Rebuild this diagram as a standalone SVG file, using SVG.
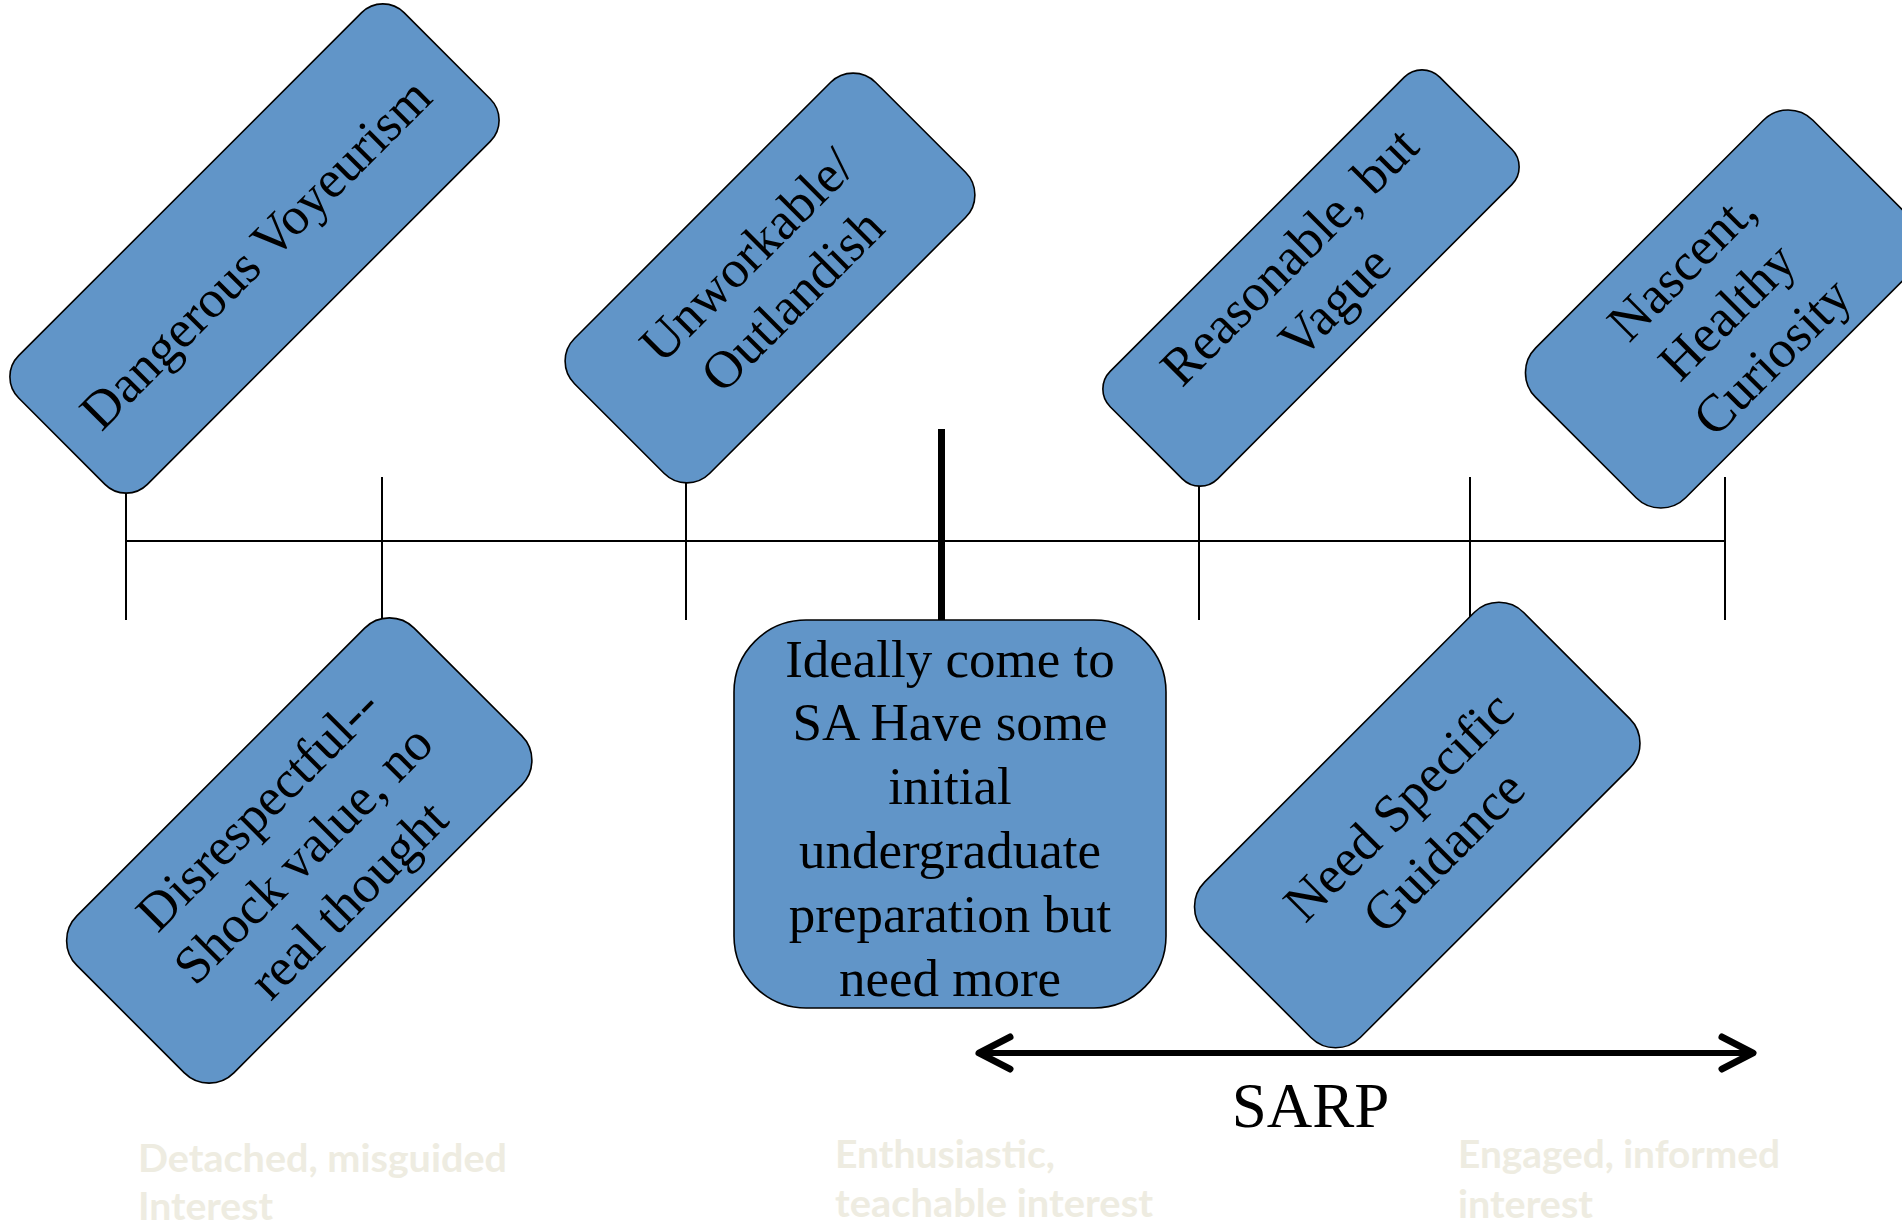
<svg xmlns="http://www.w3.org/2000/svg" width="1902" height="1225" viewBox="0 0 1902 1225">
  <style>
    .box { fill:#6195C8; stroke:#000000; stroke-width:1.6; }
    .lbl { font-family:"Liberation Serif","Times New Roman",serif; font-size:53px; fill:#000000; text-anchor:middle; }
    .thin { stroke:#000000; stroke-width:2; fill:none; }
    .thick { stroke:#000000; stroke-width:7; fill:none; }
    .faint { font-family:Lato,"Open Sans","Liberation Sans",sans-serif; font-weight:bold; font-size:39px; fill:#EEECE1; }
  </style>
  <defs>
    <marker id="chev" markerUnits="userSpaceOnUse" orient="auto-start-reverse" refX="0" refY="0" markerWidth="60" markerHeight="60" overflow="visible">
      <path d="M -31 -16 L 0 0 L -31 16" fill="none" stroke="#000000" stroke-width="7" stroke-linecap="round" stroke-linejoin="round"/>
    </marker>
  </defs>
  <rect width="1902" height="1225" fill="#ffffff"/>

  <g id="connectors">
    <line class="thin" x1="126" y1="541" x2="1725" y2="541"/>
    <line class="thin" x1="126" y1="478" x2="126" y2="620"/>
    <line class="thin" x1="382" y1="477" x2="382" y2="625"/>
    <line class="thin" x1="686" y1="478" x2="686" y2="620"/>
    <line class="thick" x1="941.5" y1="429" x2="941.5" y2="622"/>
    <line class="thin" x1="1199" y1="478" x2="1199" y2="620"/>
    <line class="thin" x1="1470" y1="477" x2="1470" y2="625"/>
    <line class="thin" x1="1725" y1="477" x2="1725" y2="620"/>
    <line x1="979" y1="1053" x2="1753" y2="1053" stroke="#000000" stroke-width="6" marker-start="url(#chev)" marker-end="url(#chev)"/>
  </g>

  <g id="node-dangerous" transform="translate(254.5,248.5) rotate(-45)">
    <rect class="box" x="-272.5" y="-91" width="545" height="182" rx="30"/>
    <text class="lbl" x="-3" y="22">Dangerous Voyeurism</text>
  </g>

  <g id="node-unworkable" transform="translate(770,278) rotate(-45)">
    <rect class="box" x="-213" y="-95.5" width="426" height="191" rx="32"/>
    <text class="lbl" x="0" y="-15">Unworkable/</text>
    <text class="lbl" x="0" y="49">Outlandish</text>
  </g>

  <g id="node-reasonable" transform="translate(1311,278) rotate(-45)">
    <rect class="box" x="-233" y="-76" width="466" height="152" rx="25"/>
    <text class="lbl" x="0" y="-13">Reasonable, but</text>
    <text class="lbl" x="0" y="51">Vague</text>
  </g>

  <g id="node-nascent" transform="translate(1724.5,309) rotate(-45)">
    <rect class="box" x="-196" y="-106" width="392" height="212" rx="35"/>
    <text class="lbl" x="0" y="-43">Nascent,</text>
    <text class="lbl" x="0" y="21">Healthy</text>
    <text class="lbl" x="0" y="85">Curiosity</text>
  </g>

  <g id="node-disrespectful" transform="translate(299.25,850.5) rotate(-45)">
    <rect class="box" x="-238.5" y="-111" width="477" height="222" rx="35"/>
    <text class="lbl" x="0" y="-41">Disrespectful--</text>
    <text class="lbl" x="0" y="23">Shock value, no</text>
    <text class="lbl" x="0" y="87">real thought</text>
  </g>

  <g id="node-ideally">
    <rect class="box" x="734" y="620" width="432" height="388" rx="72"/>
    <text class="lbl" x="950" y="676.5">Ideally come to</text>
    <text class="lbl" x="950" y="740">SA Have some</text>
    <text class="lbl" x="950" y="804">initial</text>
    <text class="lbl" x="950" y="868">undergraduate</text>
    <text class="lbl" x="950" y="932">preparation but</text>
    <text class="lbl" x="950" y="996">need more</text>
  </g>

  <g id="node-need" transform="translate(1417.25,825) rotate(-45)">
    <rect class="box" x="-225.5" y="-110" width="451" height="220" rx="35"/>
    <text class="lbl" x="0" y="-9">Need Specific</text>
    <text class="lbl" x="0" y="55">Guidance</text>
  </g>

  <g id="label-sarp">
    <text x="1310.5" y="1127" font-family="'Liberation Serif','Times New Roman',serif" font-size="63" text-anchor="middle" fill="#000000">SARP</text>
  </g>

  <g id="scale-labels">
    <text class="faint" x="138" y="1171.5" textLength="369" lengthAdjust="spacingAndGlyphs">Detached, misguided</text>
    <text class="faint" x="138" y="1219.5" textLength="135" lengthAdjust="spacingAndGlyphs">Interest</text>
    <text class="faint" x="835" y="1168" textLength="220" lengthAdjust="spacingAndGlyphs">Enthusiastic,</text>
    <text class="faint" x="835" y="1217" textLength="318" lengthAdjust="spacingAndGlyphs">teachable interest</text>
    <text class="faint" x="1458" y="1168" textLength="322" lengthAdjust="spacingAndGlyphs">Engaged, informed</text>
    <text class="faint" x="1458" y="1217.5" textLength="135" lengthAdjust="spacingAndGlyphs">interest</text>
  </g>
</svg>
